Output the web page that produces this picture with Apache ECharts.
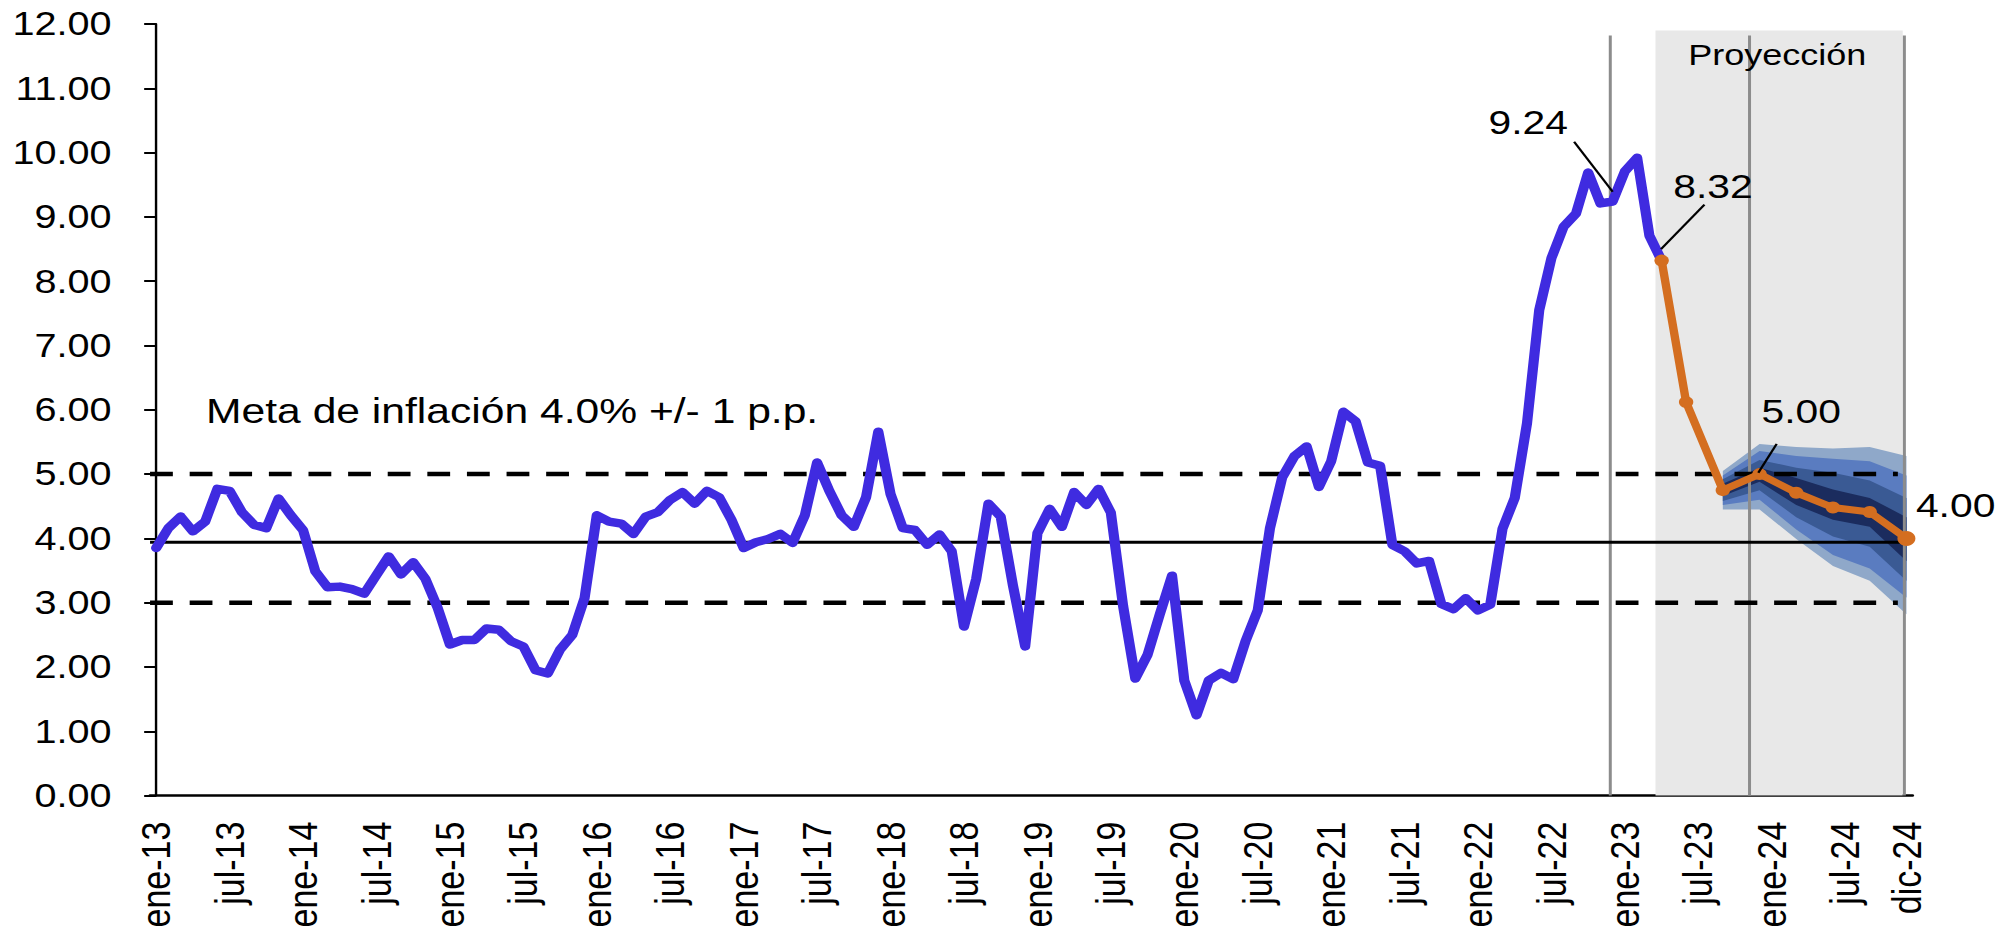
<!DOCTYPE html>
<html lang="es">
<head>
<meta charset="utf-8">
<title>Inflación total observada y proyectada</title>
<script src="https://cdn.jsdelivr.net/npm/echarts@6.0.0/dist/echarts.min.js"></script>
<style>
    html, body { margin: 0; padding: 0; background: #ffffff; overflow: hidden; }
    /* el grafico original viene estirado a lo ancho: se dibuja angosto y se estira igual */
    #grafica { width: 1672px; height: 937px; transform: scaleX(1.20036); transform-origin: 0 0; }
</style>
</head>
<body>
<div id="grafica"></div>
<script>
    var nombresMes = ['ene','feb','mar','abr','may','jun','jul','ago','sep','oct','nov','dic'];
    var meses = [];    //eje X: ene-13 ... dic-24
    for (var a = 13; a <= 24; a++) {
        for (var m = 0; m < 12; m++) {
            meses.push(nombresMes[m] + '-' + a);
        }
    }

    //inflación interanual observada, ene-13 a abr-23
    var observada = [
        3.85, 4.16, 4.34, 4.11, 4.26, 4.77, 4.74, 4.41, 4.21, 4.16, 4.62, 4.36,   //2013
        4.13, 3.49, 3.24, 3.25, 3.21, 3.14, 3.43, 3.72, 3.44, 3.63, 3.37, 2.92,   //2014
        2.35, 2.42, 2.42, 2.60, 2.58, 2.40, 2.32, 1.95, 1.90, 2.27, 2.50, 3.07,   //2015
        4.36, 4.26, 4.23, 4.07, 4.34, 4.41, 4.60, 4.72, 4.54, 4.74, 4.64, 4.29,   //2016
        3.85, 3.94, 3.99, 4.07, 3.93, 4.36, 5.18, 4.74, 4.36, 4.18, 4.64, 5.66,   //2017
        4.69, 4.16, 4.13, 3.90, 4.06, 3.80, 2.63, 3.37, 4.54, 4.34, 3.27, 2.32,   //2018
        4.08, 4.46, 4.18, 4.72, 4.52, 4.77, 4.40, 2.95, 1.82, 2.19, 2.82, 3.42,   //2019
        1.79, 1.25, 1.79, 1.91, 1.81, 2.40, 2.88, 4.16, 4.95, 5.28, 5.43, 4.80,   //2020
        5.20, 5.97, 5.82, 5.18, 5.13, 3.90, 3.80, 3.61, 3.65, 2.98, 2.90, 3.07,   //2021
        2.88, 2.97, 4.15, 4.63, 5.79, 7.55, 8.36, 8.85, 9.05, 9.69, 9.21, 9.24,   //2022
        9.71, 9.92, 8.71, 8.32                                                     //2023
    ];

    //proyección (puntos trimestrales)
    var mesesProy = ['abr-23', 'jun-23', 'sep-23', 'dic-23', 'mar-24', 'jun-24', 'sep-24', 'dic-24'];
    var proyeccion = [8.32, 6.12, 4.75, 5.00, 4.71, 4.48, 4.41, 4.00];

    //abanico de la proyección: limites de cada franja (4 = la mas ancha)
    var mesesFan = ['sep-23', 'dic-23', 'mar-24', 'jun-24', 'sep-24', 'dic-24'];
    var fanSup4 = [5.05, 5.47, 5.42, 5.40, 5.42, 5.28];
    var fanSup3 = [4.98, 5.36, 5.28, 5.24, 5.20, 4.98];
    var fanSup2 = [4.92, 5.22, 5.10, 5.02, 4.90, 4.63];
    var fanSup1 = [4.85, 5.10, 4.94, 4.76, 4.63, 4.33];
    var fanInf1 = [4.66, 4.88, 4.52, 4.29, 4.18, 3.65];
    var fanInf2 = [4.58, 4.75, 4.33, 4.03, 3.87, 3.34];
    var fanInf3 = [4.52, 4.60, 4.14, 3.74, 3.53, 3.08];
    var fanInf4 = [4.45, 4.45, 3.99, 3.57, 3.34, 2.82];

    //meta de inflación
    var metaSup = 5.00, metaInf = 3.00, metaCentro = 3.94;
    var ejeYMin = 0, ejeYMax = 12, ejeYPaso = 1;

    var fuente = '"Liberation Sans", Arial, sans-serif';
    var azul = '#3f2be0';
    var naranja = '#d46e20';
    var gris = '#8c8c8c';
    var fanColores = ['#8fa8c9', '#5a7cc0', '#3a5a94', '#1b2c5e'];  //claro -> oscuro

    function pos(mes) {
        return meses.indexOf(mes);
    }
    function pares(lista, valores) {
        var r = [];
        for (var i = 0; i < lista.length; i++) {
            r.push([pos(lista[i]), valores[i]]);
        }
        return r;
    }

    var series = [];

    //meta central + franja gris de proyeccion + lineas verticales
    series.push({
        name: 'Meta',
        type: 'line',
        xAxisIndex: 1,
        z: 4,
        silent: true,
        symbol: 'none',
        data: [[-0.5, metaCentro], [142.9, metaCentro]],
        lineStyle: {color: '#000', width: 3},
        markArea: {
            silent: true,
            z: 1,
            itemStyle: {color: '#e8e8e8'},
            data: [[{coord: [122.5, 11.9]}, {coord: [142.7, 0]}]]
        },
        markLine: {
            silent: true,
            z: 3,
            symbol: ['none', 'none'],
            label: {show: false},
            lineStyle: {color: gris, width: 2.5, type: 'solid'},
            data: [
                [{coord: [118.8, 0]}, {coord: [118.8, 11.82]}],
                [{coord: [130.2, 0]}, {coord: [130.2, 11.82]}],
                [{coord: [142.8, 0]}, {coord: [142.8, 11.82]}]
            ]
        }
    });

    //limites de la meta (punteados)
    [metaSup, metaInf].forEach(function (v) {
        series.push({
            type: 'line',
            xAxisIndex: 1,
            z: 4,
            silent: true,
            symbol: 'none',
            data: [[-0.5, v], [142.3, v]],
            lineStyle: {color: '#000', width: 4.5, type: [19, 14]}
        });
    });

    //abanico: una franja por poligono, de la mas ancha a la mas angosta
    var bandas = [
        [fanSup4, fanInf4, fanColores[0]],
        [fanSup3, fanInf3, fanColores[1]],
        [fanSup2, fanInf2, fanColores[2]],
        [fanSup1, fanInf1, fanColores[3]]
    ];
    series.push({
        name: 'Abanico',
        type: 'custom',
        xAxisIndex: 1,
        z: 2,
        silent: true,
        data: bandas.map(function (b, i) { return [i, 0]; }),
        renderItem: function (params, api) {
            var b = bandas[params.dataIndex];
            var pts = [];
            for (var i = 0; i < mesesFan.length; i++) {
                pts.push(api.coord([pos(mesesFan[i]), b[0][i]]));
            }
            for (var j = mesesFan.length - 1; j >= 0; j--) {
                pts.push(api.coord([pos(mesesFan[j]), b[1][j]]));
            }
            return {type: 'polygon', shape: {points: pts}, style: {fill: b[2]}};
        }
    });

    //inflacion observada
    series.push({
        name: 'Observada',
        type: 'line',
        z: 5,
        silent: true,
        symbol: 'none',
        data: observada,
        lineStyle: {color: azul, width: 8.5, cap: 'round', join: 'round'}
    });

    //proyeccion con etiquetas
    var datosProy = pares(mesesProy, proyeccion);
    datosProy[datosProy.length - 1] = {value: datosProy[datosProy.length - 1], symbolSize: 15};
    series.push({
        name: 'Proyección',
        type: 'line',
        xAxisIndex: 1,
        z: 6,
        silent: true,
        symbol: 'circle',
        symbolSize: 12,
        data: datosProy,
        itemStyle: {color: naranja},
        lineStyle: {color: naranja, width: 7, cap: 'round', join: 'round'},
        markPoint: {
            silent: true,
            z: 7,
            symbol: 'circle',
            symbolSize: 1,
            itemStyle: {color: 'rgba(0,0,0,0)'},
            label: {
                show: true,
                position: 'inside',
                color: '#000',
                fontSize: 34,
                fontFamily: fuente,
                formatter: function (p) { return p.value.toFixed(2); }
            },
            data: [
                {coord: [112.1, 10.48], value: observada[pos('dic-22')]},
                {coord: [127.2, 9.48], value: proyeccion[0]},
                {coord: [134.4, 5.97], value: proyeccion[3]},
                {coord: [143, 4.0], value: proyeccion[7], label: {offset: [41, -33]}}
            ]
        },
        markLine: {
            silent: true,
            z: 7,
            symbol: ['none', 'none'],
            label: {show: false},
            lineStyle: {color: '#000', width: 2, type: 'solid'},
            data: [
                [{coord: [115.85, 10.17]}, {coord: [119.0, 9.39]}],
                [{coord: [126.5, 9.19]}, {coord: [122.95, 8.50]}],
                [{coord: [132.4, 5.47]}, {coord: [130.9, 5.02]}]
            ]
        }
    });

    var myChart = echarts.init(document.getElementById('grafica'), null, {renderer: 'svg'});
    var option = {
        animation: false,
        backgroundColor: '#ffffff',
        grid: {left: 125, right: 78.7, top: 24, bottom: 141.4, containLabel: false, outerBoundsMode: 'none'},
        xAxis: [{
            type: 'category',
            data: meses,
            boundaryGap: true,
            axisLine: {show: true, lineStyle: {color: '#000', width: 2.5}},
            axisTick: {show: false},
            splitLine: {show: false},
            axisLabel: {
                interval: function (i) { return i % 6 === 0 || i === meses.length - 1; },
                rotate: 90,
                margin: 26,
                fontSize: 34,
                fontFamily: fuente,
                color: '#000'
            }
        }, {
            type: 'value',
            min: -0.5,
            max: meses.length - 0.5,
            show: false
        }],
        yAxis: {
            type: 'value',
            min: ejeYMin,
            max: ejeYMax,
            interval: ejeYPaso,
            axisLine: {show: true, lineStyle: {color: '#000', width: 2}},
            axisTick: {show: true, inside: false, length: 10, lineStyle: {color: '#000', width: 2}},
            splitLine: {show: false},
            axisLabel: {
                formatter: function (v) { return v.toFixed(2); },
                margin: 32,
                fontSize: 33,
                fontFamily: fuente,
                color: '#000'
            }
        },
        graphic: [{
            type: 'text',
            x: 171.7,
            y: 411,
            z: 10,
            silent: true,
            style: {
                text: 'Meta de inflación 4.0% +/- 1 p.p.',
                fontSize: 35.5,
                fontFamily: fuente,
                fill: '#000',
                align: 'left',
                verticalAlign: 'middle'
            }
        }, {
            type: 'text',
            x: 1480.6,
            y: 55,
            z: 10,
            silent: true,
            style: {
                text: 'Proyección',
                fontSize: 30,
                fontFamily: fuente,
                fill: '#000',
                align: 'center',
                verticalAlign: 'middle'
            }
        }],
        series: series
    };
    myChart.setOption(option);
</script>
</body>
</html>
